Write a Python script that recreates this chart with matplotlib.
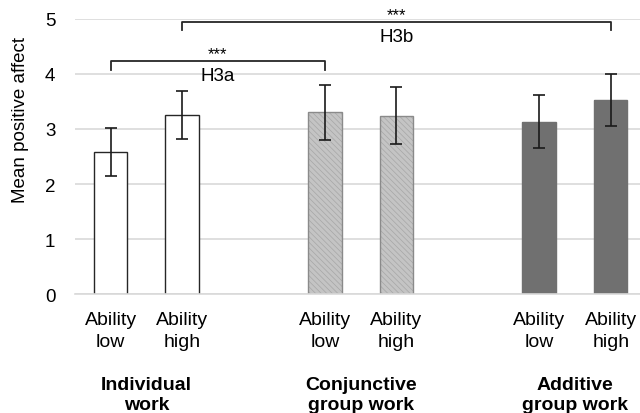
import matplotlib
matplotlib.use("Agg")
import matplotlib.pyplot as plt

plt.rcParams['font.family'] = ['Liberation Sans', 'DejaVu Sans']
plt.rcParams['hatch.linewidth'] = 0.5

# data
conditions = ["Individual\nwork", "Conjunctive\ngroup work", "Additive\ngroup work"]
ability = ["Ability\nlow", "Ability\nhigh"]
means = [2.58, 3.25, 3.30, 3.24, 3.13, 3.52]
errors = [0.43, 0.44, 0.50, 0.52, 0.48, 0.47]
positions = [0, 1, 3, 4, 6, 7]

FS = 14

fig, ax = plt.subplots(figsize=(6.4, 4.14), dpi=100)
fig.subplots_adjust(left=0.117, right=1.0, top=0.952, bottom=0.287)

fills = ["white", "white", "#c4c4c4", "#c4c4c4", "#707070", "#707070"]
hatches = [None, None, "\\\\\\\\\\\\", "\\\\\\\\\\\\", None, None]
hatch_cols = ["#262626", "#262626", "#a6a6a6", "#a6a6a6", "#707070", "#707070"]
edges = ["#262626", "#262626", "#8a8a8a", "#8a8a8a", "#707070", "#707070"]
for x, m, fc, h, hc, ec in zip(positions, means, fills, hatches, hatch_cols, edges):
    ax.bar(x, m, width=0.47, color=fc, edgecolor=hc, hatch=h, linewidth=0, zorder=2)
    ax.bar(x, m, width=0.47, fill=False, edgecolor=ec, linewidth=1.0, zorder=2)

ax.errorbar(positions, means, yerr=errors, fmt="none", ecolor="#1a1a1a",
            elinewidth=1.2, capsize=4, capthick=1.2, zorder=3)

ax.set_ylim(0, 5)
ax.set_xlim(-0.5, 7.41)
ax.set_yticks([0, 1, 2, 3, 4, 5])
ax.yaxis.grid(True, color="#d9d9d9", linewidth=1.2, zorder=0)
ax.set_axisbelow(True)
for side in ["top", "right", "left"]:
    ax.spines[side].set_visible(False)
ax.spines["bottom"].set_color("#d9d9d9")
ax.spines["bottom"].set_linewidth(1.2)
ax.tick_params(axis="y", length=0, labelsize=13.5, pad=14)
ax.tick_params(axis="x", length=0, labelsize=FS, pad=12)
ax.set_xticks(positions)
ax.set_xticklabels(ability * 3, linespacing=1.4)
ax.set_ylabel("Mean positive affect", fontsize=13.5)
ax.yaxis.set_label_coords(-0.082, 0.636)

# group labels
for i, name in enumerate(conditions):
    xc = (positions[2 * i] + positions[2 * i + 1]) / 2
    ax.text(xc, -1.82, name, ha="center", va="center", fontsize=FS,
            fontweight="bold", linespacing=1.2, clip_on=False)

# significance brackets
def bracket(x1, x2, y, drop, label):
    ax.plot([x1, x1, x2, x2], [y - drop, y, y, y - drop], color="#262626",
            linewidth=1.3, clip_on=False, zorder=4)
    ax.text((x1 + x2) / 2, y + 0.0, "***", ha="center", va="bottom", fontsize=12)
    ax.text((x1 + x2) / 2, y - 0.12, label, ha="center", va="top", fontsize=13.5)

bracket(positions[0], positions[2], 4.24, 0.16, "H3a")
bracket(positions[1], positions[5], 4.95, 0.15, "H3b")

fig.savefig("out.png", dpi=100)
